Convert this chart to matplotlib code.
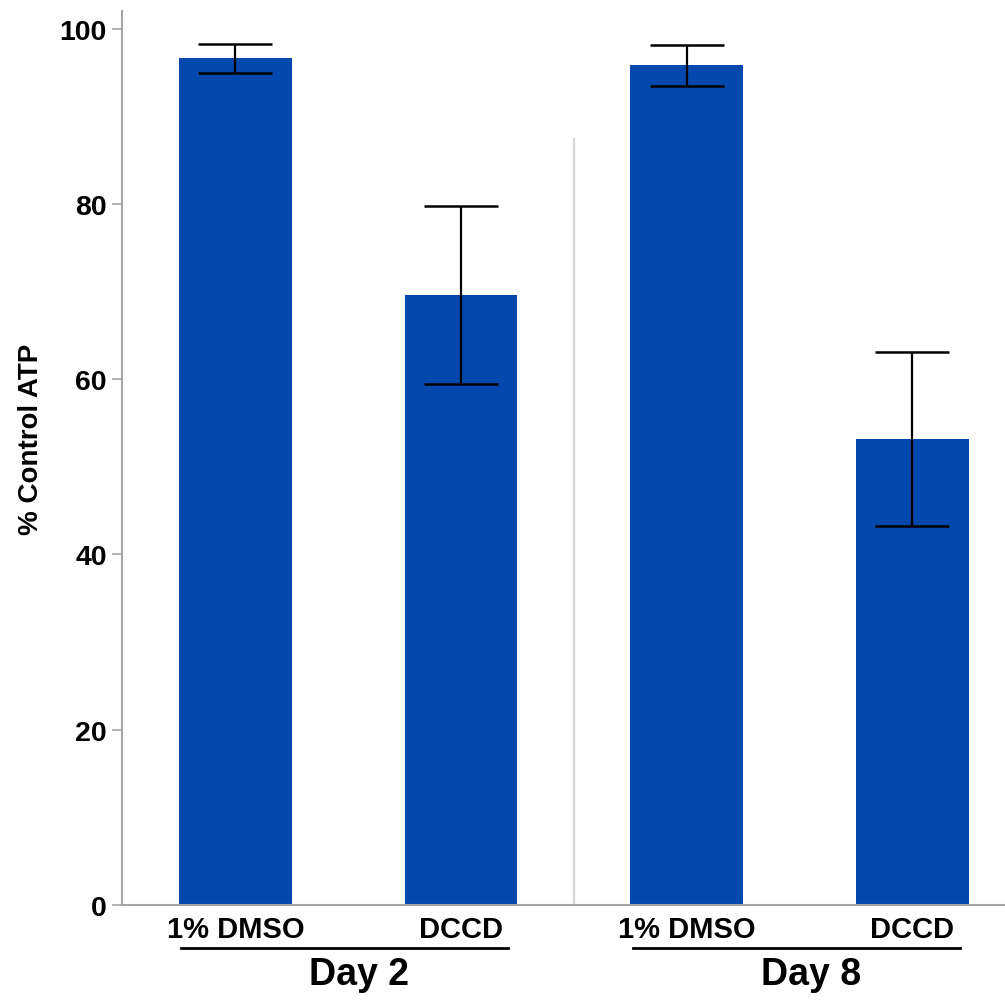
import matplotlib as mpl
mpl.use('Agg')
import matplotlib.pyplot as plt
import matplotlib.transforms as mtransforms
import numpy as np

plt.rcParams['font.family'] = ['Liberation Sans', 'DejaVu Sans']

# data
groups = ["Day 2", "Day 8"]
treatments = ["1% DMSO", "DCCD", "1% DMSO", "DCCD"]
atp_mean = [96.6, 69.6, 95.8, 53.2]
atp_err = [1.65, 10.2, 2.35, 9.9]
divider_top = 87.5

BAR_COLOR = '#0448ad'
SPINE_COLOR = '#a6a6a6'

fig = plt.figure(figsize=(10.05, 10.04), dpi=100)
ax = fig.add_axes([0.1214, 0.0976, 0.8786, 0.8904])

x = np.arange(len(atp_mean))
ax.bar(x, atp_mean, width=0.5, color=BAR_COLOR, zorder=2)
ax.errorbar(x, atp_mean, yerr=atp_err, fmt='none', ecolor='black',
            elinewidth=1.6, capsize=26.5, capthick=1.8, zorder=3)

# light separator between the two days
ax.vlines(1.5, 0, divider_top, color='#d6d6d6', linewidth=1.6, zorder=1)

ax.set_xlim(-0.502, 3.41)
ax.set_ylim(0, 102)
ax.set_yticks([0, 20, 40, 60, 80, 100])
ax.set_xticks(x)
ax.set_xticklabels(treatments, fontsize=21, fontweight='bold')
for lab in ax.get_yticklabels():
    lab.set_fontsize(20.5)
    lab.set_fontweight('bold')

ax.tick_params(axis='x', length=0, pad=7)
ax.tick_params(axis='y', length=7, width=1.2, color=SPINE_COLOR, pad=4)

for side in ['top', 'right']:
    ax.spines[side].set_visible(False)
for side in ['left', 'bottom']:
    ax.spines[side].set_color(SPINE_COLOR)
    ax.spines[side].set_linewidth(1.5)

ax.set_ylabel("% Control ATP", fontsize=20, fontweight='bold')
ax.yaxis.set_label_coords(-0.088, 0.522)

# group underlines + day labels
trans = mtransforms.blended_transform_factory(ax.transData, ax.transAxes)
for i, g in enumerate(groups):
    left = 2 * i - 0.24
    right = 2 * i + 1 + 0.21
    ax.plot([left, right], [-0.048, -0.048], color='black', linewidth=2,
            transform=trans, clip_on=False)
    ax.text(2 * i + 0.55, -0.077, g, transform=trans, ha='center', va='center',
            fontsize=27, fontweight='bold')

plt.savefig("out.png", dpi=100)
